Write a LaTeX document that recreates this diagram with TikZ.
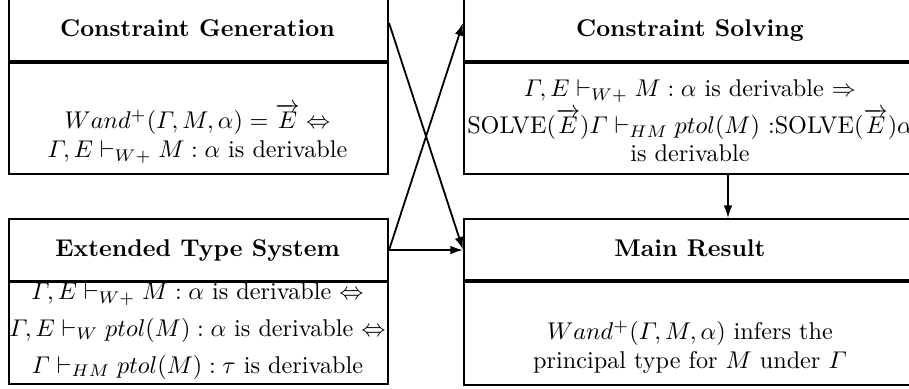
\documentclass[tikz,border=0pt]{standalone}
\usepackage{amsmath}
\usetikzlibrary{arrows.meta}
\newlength\pxu
\setlength\pxu{0.4132pt}
\begin{document}
\begin{tikzpicture}[x=0.4132pt, y=-0.4132pt,
  part/.style={draw, line width=0.85pt, rectangle, inner sep=0pt, anchor=north west},
  thickdiv/.style={line width=1.65pt},
  thindiv/.style={line width=0.85pt},
  ttl/.style={font=\bfseries, anchor=base, inner sep=0pt},
  ln/.style={anchor=base, inner sep=0pt},
  conn/.style={line width=0.75pt, -{Latex[length=5.2pt,width=3.6pt]}}]
\useasboundingbox (0,0) rectangle (909,389);
\clip (0,0) rectangle (909,389);
% boxes
\node[part, minimum width=379\pxu, minimum height=76\pxu] (cgh) at (8,-16) {};
\node[part, minimum width=379\pxu, minimum height=113\pxu] (cgb) at (8,60) {};
\node[part, minimum width=454\pxu, minimum height=76\pxu] (csh) at (463,-16) {};
\node[part, minimum width=454\pxu, minimum height=113\pxu] (csb) at (463,60) {};
\node[part, minimum width=379\pxu, minimum height=62\pxu] (etsh) at (8,218) {};
\node[part, minimum width=379\pxu, minimum height=103\pxu] (etsb) at (8,280) {};
\node[part, minimum width=454\pxu, minimum height=61\pxu] (mrh) at (463,218) {};
\node[part, minimum width=454\pxu, minimum height=105\pxu] (mrb) at (463,279) {};
% dividers
\draw[thickdiv] (cgh.south west) -- (cgh.south east);
\draw[thickdiv] (csh.south west) -- (csh.south east);
\draw[thindiv] (etsh.south west) -- (etsh.south east);
\draw[thickdiv] (mrh.south west) -- (mrh.south east);
% titles
\node[ttl] (cgt) at (197.5,37) {Constraint Generation};
\node[ttl] (cst) at (690,37) {Constraint Solving};
\node[ttl] (etst) at (197.5,256) {Extended Type System};
\node[ttl] (mrt) at (690,257) {Main Result};
% bodies
\node[ln] (cg1) at (197.5,129) {$Wand^+(\varGamma, M, \alpha) = \overrightarrow{E} \Leftrightarrow$};
\node[ln] (cg2) at (197.5,158) {$\varGamma, E \vdash_{W+} M : \alpha$ is derivable};
\node[ln] (cs1) at (690,97) {$\varGamma, E \vdash_{W+} M : \alpha$ is derivable $\Rightarrow$};
\node[ln] (cs2) at (690,134) {$\mathrm{SOLVE}(\overrightarrow{E})\varGamma \vdash_{HM} ptol(M)$ :$\mathrm{SOLVE}(\overrightarrow{E})\alpha$};
\node[ln] (cs3) at (690,162) {is derivable};
\node[ln] (ets1) at (197.5,300) {$\varGamma, E \vdash_{W+} M : \alpha$ is derivable $\Leftrightarrow$};
\node[ln] (ets2) at (197.5,336) {$\varGamma, E \vdash_{W} ptol(M) : \alpha$ is derivable $\Leftrightarrow$};
\node[ln] (ets3) at (197.5,373) {$\varGamma \vdash_{HM} ptol(M) : \tau$ is derivable};
\node[ln] (mr1) at (690,340) {$Wand^+(\varGamma, M, \alpha)$ infers the};
\node[ln] (mr2) at (690,368) {principal type for $M$ under $\varGamma$};
% connectors
\coordinate (vx) at (728,0);
\draw[conn] (cgh.east) -- (mrh.west);
\draw[conn] (etsh.east) -- (csh.west);
\draw[conn] (etsh.east) -- (etsh.east -| mrh.west);
\draw[conn] (vx |- csb.south) -- (vx |- mrh.north);
\end{tikzpicture}
\end{document}
